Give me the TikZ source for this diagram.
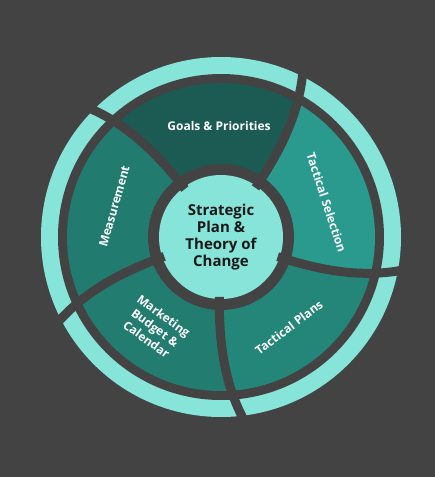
\documentclass[tikz,border=0pt]{standalone}
\usepackage{fontspec}
\setmainfont{Open Sans}
\definecolor{bg}{HTML}{434343}
\definecolor{lt}{HTML}{87E4D8}
\definecolor{cgoal}{HTML}{1B5B54}
\definecolor{cmeas}{HTML}{217B6F}
\definecolor{csel}{HTML}{2A9A8E}
\definecolor{cplan}{HTML}{238679}
\definecolor{cmark}{HTML}{227C70}
\tikzset{
  sepline/.style={line width=9pt, draw=bg, line cap=butt},
  seclabel/.style={text=white, font=\fontsize{12}{14.5}\selectfont\bfseries, align=center, inner sep=0pt},
  centerlabel/.style={text=black!90, font=\fontsize{15}{17}\selectfont\bfseries, align=center, inner sep=0pt},
  declare function={tw(\r)=0.025*(\r-65)+0.0004*(\r-65)*(\r-65);}
}
\newcommand\mysector[3]{%
  \fill[#3] plot[variable=\r,domain=55:260,samples=50] ({#1+tw(\r)}:{\r})
    -- plot[variable=\r,domain=260:55,samples=50] ({#2+tw(\r)}:{\r}) -- cycle;}
\newcommand\mysep[1]{%
  \draw[sepline] plot[variable=\r,domain=60:188,samples=50] ({#1+tw(\r)}:{\r});}
\begin{document}
\begin{tikzpicture}[x=1pt,y=1pt]
\useasboundingbox (-221,-240) rectangle (214,237);
\fill[bg] (-221,-240) rectangle (214,237);
% outer ring
\fill[lt] (0,0) circle (180pt);
\fill[bg] (0,0) circle (163pt);
% sectors
\begin{scope}
  \clip (0,0) circle (154pt);
  \mysector{55}{127}{cgoal}
  \mysector{127}{199}{cmeas}
  \mysector{199}{268.5}{cmark}
  \mysector{268.5}{341}{cplan}
  \mysector{341}{415}{csel}
\end{scope}
% hub
\fill[bg] (0,0) circle (73pt);
\fill[lt] (0,0) circle (62pt);
% separators
\mysep{55}
\mysep{127}
\mysep{199}
\mysep{268.5}
\mysep{341}
% labels
\node[centerlabel] (hub) at (0,0) {Strategic\\Plan \&\\Theory of\\Change};
\node[seclabel] (goals) at (91:111) {Goals \& Priorities};
\node[seclabel, rotate=-72] (sel) at (18:111) {Tactical Selection};
\node[seclabel, rotate=74] (meas) at (164:111) {Measurement};
\node[seclabel, rotate=37] (plans) at (-53:113) {Tactical Plans};
\node[seclabel, rotate=-36] (mark) at (234:112) {Marketing\\Budget \&\\Calendar};
\end{tikzpicture}
\end{document}
